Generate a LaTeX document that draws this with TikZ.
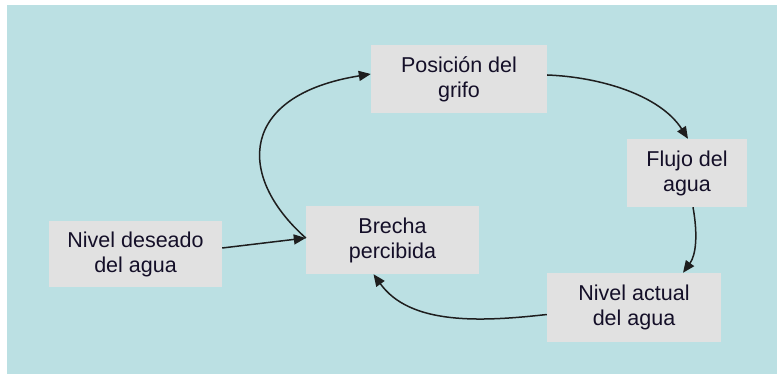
\documentclass[tikz,border=0pt]{standalone}
\usepackage{fontspec}
\setmainfont{Liberation Sans}
\usetikzlibrary{arrows.meta}
\definecolor{bgcyan}{RGB}{187,224,227}
\definecolor{boxgray}{RGB}{225,225,225}
\definecolor{inkline}{RGB}{30,30,30}
\definecolor{inktext}{RGB}{20,15,40}
\tikzset{
  box/.style={fill=boxgray, draw=none, inner sep=0pt, align=center,
    text=inktext, font=\fontsize{21.5}{25}\selectfont},
  link/.style={draw=inkline, line width=1.5pt,
    -{Triangle[length=12pt,width=10pt]}}
}
\begin{document}
\begin{tikzpicture}[x=1pt,y=-1pt]
\useasboundingbox (0,0) rectangle (777,374);
\fill[white] (0,0) rectangle (777,374);
\fill[bgcyan] (7,5) rectangle (777,374);

\node[box, minimum width=176pt, minimum height=68pt] (pos) at (459,79) {Posición del\\grifo};
\node[box, minimum width=120pt, minimum height=68pt] (flujo) at (687,173) {Flujo del\\agua};
\node[box, minimum width=173pt, minimum height=68pt] (brecha) at (392.5,240) {Brecha\\percibida};
\node[box, minimum width=173pt, minimum height=66pt] (deseado) at (135.5,254) {Nivel deseado\\del agua};
\node[box, minimum width=174pt, minimum height=69pt] (actual) at (634,307.5) {Nivel actual\\del agua};

\draw[link] ([yshift=6pt]deseado.east) -- ([yshift=2pt]brecha.west);
\draw[link] ([yshift=2pt]brecha.west) .. controls (235,175) and (240,95) .. ([yshift=5pt]pos.west);
\draw[link] ([yshift=4pt]pos.east) .. controls (600,77) and (660,95) .. ([xshift=1pt]flujo.north);
\draw[link] ([xshift=6pt]flujo.south) .. controls (698,235) and (696,255) .. ([xshift=49pt]actual.north);
\draw[link] ([yshift=-7pt]actual.west) .. controls (480,322) and (410,325) .. ([xshift=-19pt]brecha.south);
\end{tikzpicture}
\end{document}
